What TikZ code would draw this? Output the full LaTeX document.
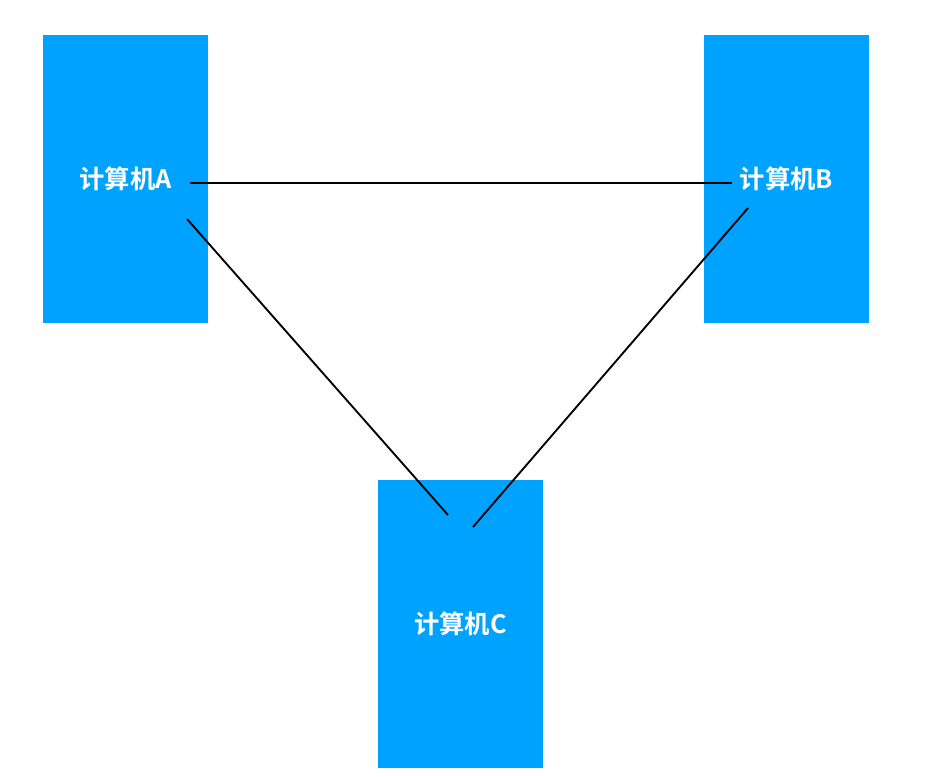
\documentclass[tikz,border=0pt]{standalone}
\usepackage{fontspec}
\newfontfamily\cjk{Noto Sans CJK SC}[BoldFont={Noto Sans CJK SC Bold}]
\definecolor{pcblue}{HTML}{00A2FF}
\tikzset{
    pc/.style={fill=pcblue, inner sep=0pt, minimum width=123.75pt, minimum height=216pt,
        text=white, font=\cjk\bfseries\fontsize{19}{21}\selectfont},
    wire/.style={black, line width=1.4pt}
}

\begin{document}
\begin{tikzpicture}[x=0.75pt, y=-0.75pt]
            \useasboundingbox (0,0) rectangle (934,777);
            %Nodes
            \node[pc] at (125.5,179) (A) {计算机A};
            \node[pc] at (786.5,179) (B) {计算机B};
            \node[pc] at (460.5,623.5) (C) {计算机C};

            %Ends of lines
            \coordinate (AB1) at (190,183);
            \coordinate (AB2) at (732,183);
            \coordinate (AC1) at (187,219);
            \coordinate (AC2) at (448,515);
            \coordinate (BC1) at (748,208);
            \coordinate (BC2) at (473,527);

            %Lines
            \draw[wire] (AB1) -- (AB2);
            \draw[wire] (AC1) -- (AC2);
            \draw[wire] (BC1) -- (BC2);
        \end{tikzpicture}
\end{document}
